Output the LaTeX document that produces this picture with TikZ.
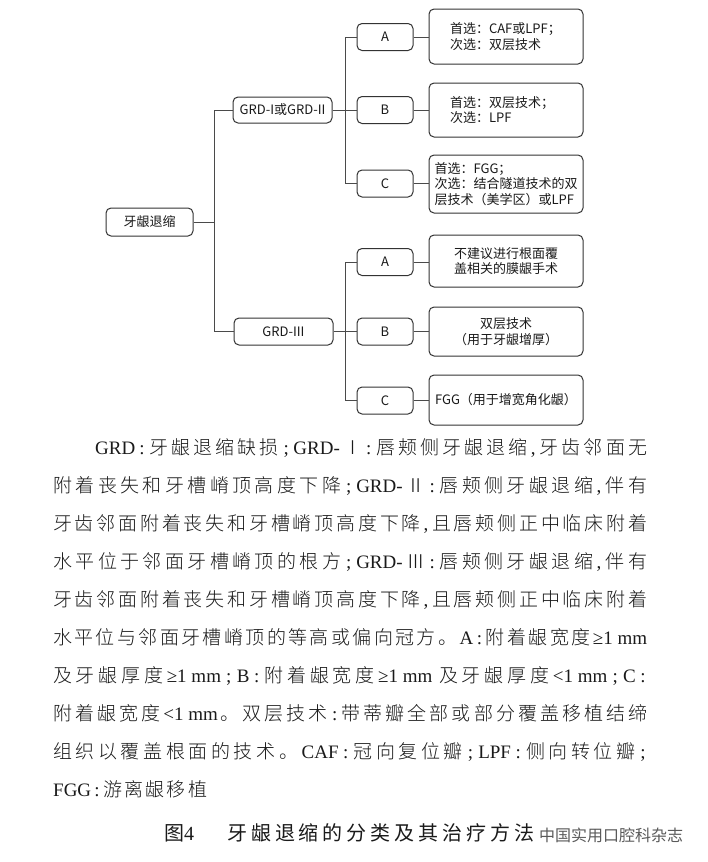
\documentclass[tikz,border=0pt]{standalone}
\usepackage{fontspec}
\setmainfont{Noto Sans CJK SC}
\IfFontExistsTF{Noto Sans CJK SC Light}
  {\newfontfamily\bodycjk{Noto Sans CJK SC Light}}
  {\newfontfamily\bodycjk{Noto Sans CJK SC}}
\newfontfamily\latf{Liberation Serif}
\definecolor{boxc}{HTML}{333333}
\definecolor{linec}{HTML}{4A4A4A}
\definecolor{txt}{HTML}{1A1A1A}
\definecolor{wmc}{HTML}{5A5A5A}
\newcommand\dfont{\fontsize{13}{15.5}\selectfont}
\newcommand\bodyfont{\bodycjk\fontsize{19}{38}\selectfont}
\newcommand\capfont{\fontsize{20}{24}\selectfont}
\newcommand\wmfont{\fontsize{16}{18}\selectfont}
\newcommand\sco{{\latf\kern1.5pt;\kern1.5pt}}
\newcommand\clo{{\latf\kern1pt:\kern1.5pt}}
\newcommand\cma{{\latf ,\kern1pt}}
\ExplSyntaxOn
\NewDocumentCommand\jline{mm}{\hbox~to~#1{\tl_map_inline:nn{#2}{{##1}\hfil}\unskip}}
\ExplSyntaxOff
\begin{document}
\begin{tikzpicture}[x=1pt,y=-1pt,
  box/.style={draw=boxc,line width=1pt,rounded corners=5pt,inner sep=0pt,font=\dfont,text=txt,fill=white},
  conn/.style={draw=linec,line width=1pt},
  bodyl/.style={anchor=base west,inner sep=0pt,font=\bodyfont,text=txt}]
\fill[white] (0,0) rectangle (707,862);
\useasboundingbox (0,0) rectangle (707,862);

% left part
\node[box,minimum width=87pt,minimum height=28pt] (root) at (149.5,222) {牙龈退缩};
\node[box,minimum width=99pt,minimum height=26pt] (g1) at (282.5,110) {GRD-I或GRD-II};
\node[box,minimum width=99pt,minimum height=27pt] (g2) at (283.5,331.5) {GRD-III};
\foreach \n/\y/\t in {a1/37/A,b1/110/B,c1/183.5/C,a2/262/A,b2/331.5/B,c2/400.5/C}
  \node[box,minimum width=56pt,minimum height=27pt] (\n) at (385,\y) {\t};

% right boxes
\node[box,minimum height=55pt,text width=112pt,inner xsep=21pt,align=left] (ra1) at (506,36.5) {首选：CAF或LPF；\\次选：双层技术};
\node[box,minimum height=54pt,text width=112pt,inner xsep=21pt,align=left] (rb1) at (506,110) {首选：双层技术；\\次选：LPF};
\node[box,minimum width=154pt,minimum height=58pt,align=left] (rc1) at (506,184) {首选：FGG；\\次选：结合隧道技术的双\\层技术（美学区）或LPF};
\node[box,minimum width=154pt,minimum height=52pt,align=center] (ra2) at (506,261) {不建议进行根面覆\\盖相关的膜龈手术};
\node[box,minimum width=154pt,minimum height=49pt,align=center] (rb2) at (506,331.5) {双层技术\\（用于牙龈增厚）};
\node[box,minimum width=154pt,minimum height=50pt] (rc2) at (506,400) {FGG（用于增宽角化龈）};

% connectors
\coordinate (j0) at (214,222);
\coordinate (j1) at (345,0);
\draw[conn] (root.east) -- (j0);
\draw[conn] (g1.west) -- (j0|-g1.west) -- (j0|-g2.west) -- (g2.west);
\draw[conn] (a1.west) -- (j1|-a1.west) -- (j1|-c1.west) -- (c1.west);
\draw[conn] (a2.west) -- (j1|-a2.west) -- (j1|-c2.west) -- (c2.west);
\draw[conn] (g1.east) -- (b1.west);
\draw[conn] (g2.east) -- (b2.west);
\foreach \l/\r in {a1/ra1,b1/rb1,c1/rc1,a2/ra2,b2/rb2,c2/rc2}
  \draw[conn] (\l.east) -- (\l.east -| \r.west);

% body text
\node[bodyl] (l1) at (95,454) {\jline{552pt}{{\latf GRD}\clo 牙龈退缩缺损\sco{\latf GRD-}Ⅰ\clo 唇颊侧牙龈退缩\cma 牙齿邻面无}};
\node[bodyl] (l2) at (53,492) {\jline{594pt}{附着丧失和牙槽嵴顶高度下降\sco{\latf GRD-}Ⅱ\clo 唇颊侧牙龈退缩\cma 伴有}};
\node[bodyl] (l3) at (53,530) {\jline{594pt}{牙齿邻面附着丧失和牙槽嵴顶高度下降\cma 且唇颊侧正中临床附着}};
\node[bodyl] (l4) at (53,568) {\jline{594pt}{水平位于邻面牙槽嵴顶的根方\sco{\latf GRD-}Ⅲ\clo 唇颊侧牙龈退缩\cma 伴有}};
\node[bodyl] (l5) at (53,606) {\jline{594pt}{牙齿邻面附着丧失和牙槽嵴顶高度下降\cma 且唇颊侧正中临床附着}};
\node[bodyl] (l6) at (53,644) {\jline{594pt}{水平位与邻面牙槽嵴顶的等高或偏向冠方。{\latf A}\clo 附着龈宽度{\latf ≥1 mm}}};
\node[bodyl] (l7) at (53,682) {\jline{594pt}{及牙龈厚度{\latf ≥1 mm}\sco{\latf B}\clo 附着龈宽度{\latf ≥1 mm\kern3pt}及牙龈厚度{\latf <1 mm}\sco{\latf C}\clo}};
\node[bodyl] (l8) at (53,720) {\jline{594pt}{附着龈宽度{\latf <1 mm}。双层技术\clo 带蒂瓣全部或部分覆盖移植结缔}};
\node[bodyl] (l9) at (53,758) {\jline{594pt}{组织以覆盖根面的技术。{\latf CAF}\clo 冠向复位瓣\sco{\latf LPF}\clo 侧向转位瓣\sco}};
\node[bodyl] (l10) at (53,796) {\jline{154pt}{{\latf FGG}\clo 游离龈移植}};

% caption
\node[anchor=base west,inner sep=0pt,font=\capfont,text=txt] (capnum) at (164,840) {图{\latf 4}};
\node[anchor=base west,inner sep=0pt,font=\capfont,text=txt] (cap) at (227,840) {\jline{307pt}{牙龈退缩的分类及其治疗方法}};
\node[anchor=base west,inner sep=0pt,font=\wmfont,text=wmc] (wm) at (539,841) {中国实用口腔科杂志};
\end{tikzpicture}
\end{document}
